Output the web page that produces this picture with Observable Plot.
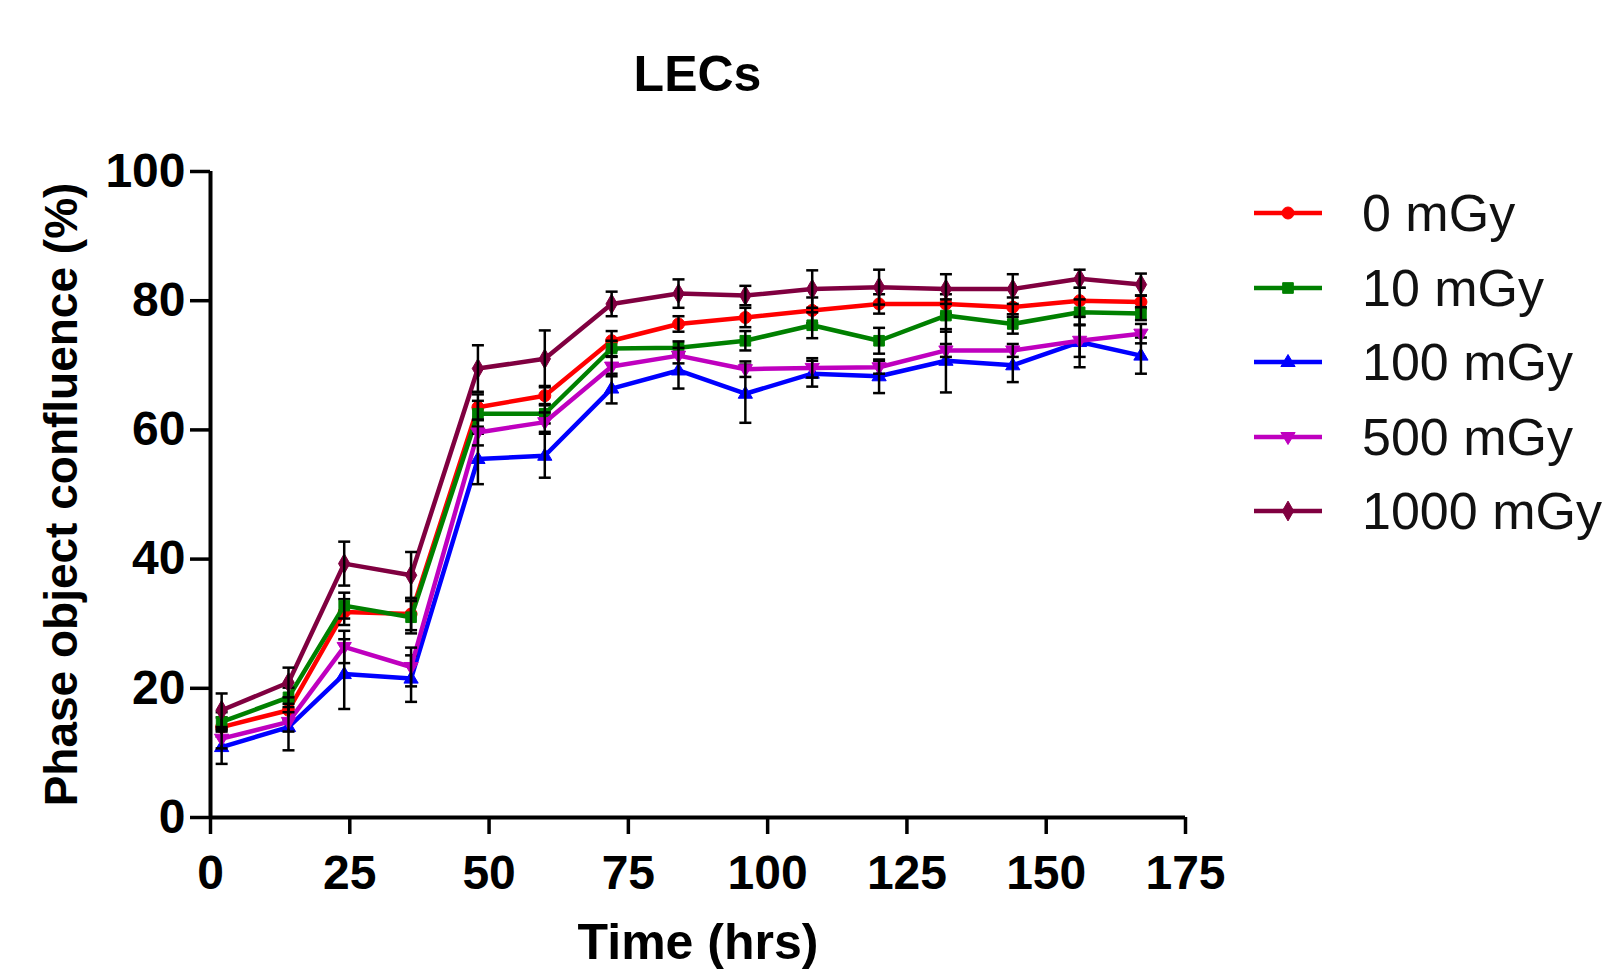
<!DOCTYPE html>
<html>
<head>
<meta charset="utf-8">
<script src="https://cdn.jsdelivr.net/npm/d3@7"></script>
<script src="https://cdn.jsdelivr.net/npm/@observablehq/plot@0.6"></script>
<style>
  body { margin: 0; background: #fff; font-family: "Liberation Sans", Arial, sans-serif; }
  #wrap { position: relative; width: 1609px; height: 969px; overflow: hidden; background: #fff; }
  #title { height: 120px; box-sizing: border-box; padding-top: 49px; width: 1395px; text-align: center;
           font-weight: bold; font-size: 50px; line-height: 50px; color: #000; }
  #legend { position: absolute; left: 1254px; top: 176px; }
  .row { display: flex; align-items: center; height: 74.5px; }
  .row span { margin-left: 40px; font-size: 52px; color: #111; white-space: nowrap; }
</style>
</head>
<body>
<div id="wrap">
  <div id="title">LECs</div>
  <div id="chart"></div>
  <div id="legend"></div>
</div>
<script>
// ---- data ----
const times = [2, 14, 24, 36, 48, 60, 72, 84, 96, 108, 120, 132, 144, 156, 167];
const doseLabels = ["0 mGy", "10 mGy", "100 mGy", "500 mGy", "1000 mGy"];

const mean0    = [14.0, 16.6, 31.8, 31.5, 63.5, 65.3, 73.8, 76.4, 77.4, 78.5, 79.5, 79.5, 79.0, 80.0, 79.8];
const mean10   = [14.8, 18.6, 32.8, 31.0, 62.5, 62.5, 72.6, 72.7, 73.8, 76.2, 73.8, 77.7, 76.4, 78.2, 78.0];
const mean100  = [10.9, 14.0, 22.2, 21.5, 55.5, 56.0, 66.4, 69.2, 65.6, 68.7, 68.3, 70.7, 70.0, 73.6, 71.5];
const mean500  = [12.2, 14.8, 26.4, 23.3, 59.6, 61.2, 69.8, 71.5, 69.4, 69.6, 69.7, 72.3, 72.3, 73.8, 74.9];
const mean1000 = [16.6, 20.9, 39.3, 37.5, 69.5, 71.0, 79.5, 81.1, 80.8, 81.8, 82.1, 81.8, 81.8, 83.4, 82.5];

const sem0    = [1.5, 1.5, 2.0, 2.5, 2.0, 1.5, 1.5, 1.2, 1.5, 2.0, 1.5, 1.5, 1.5, 2.0, 1.0];
const sem10   = [1.5, 1.5, 2.0, 2.5, 2.0, 1.5, 1.2, 1.0, 1.5, 2.0, 2.0, 2.5, 1.5, 2.0, 1.0];
const sem100  = [2.6, 3.6, 5.4, 3.6, 3.9, 3.4, 2.3, 2.8, 4.5, 2.0, 2.6, 4.9, 2.6, 3.9, 2.8];
const sem500  = [1.5, 1.5, 2.5, 3.0, 2.0, 1.5, 1.5, 1.2, 1.2, 1.5, 1.0, 1.0, 1.0, 2.5, 1.5];
const sem1000 = [2.6, 2.3, 3.4, 3.6, 3.6, 4.4, 1.9, 2.2, 1.5, 2.9, 2.7, 2.3, 2.3, 1.4, 1.7];

const xTicks = [0, 25, 50, 75, 100, 125, 150, 175];
const yTicks = [0, 20, 40, 60, 80, 100];
const xLabel = "Time (hrs)";
const yLabel = "Phase object confluence (%)";

// ---- styles ----
const colors = ["#ff0000", "#008000", "#0000ff", "#bf00bf", "#800040"];
const downTriangle = {
  draw(ctx, size) {
    const r = Math.sqrt(size / Math.PI) * 1.25;
    ctx.moveTo(0, r);
    ctx.lineTo(-r * 0.95, -r * 0.6);
    ctx.lineTo(r * 0.95, -r * 0.6);
    ctx.closePath();
  }
};
const upTriangle = {
  draw(ctx, size) {
    const r = Math.sqrt(size / Math.PI) * 1.25;
    ctx.moveTo(0, -r);
    ctx.lineTo(-r * 0.95, r * 0.6);
    ctx.lineTo(r * 0.95, r * 0.6);
    ctx.closePath();
  }
};
const capSymbol = {
  draw(ctx, size) {
    const r = Math.sqrt(size / Math.PI);
    ctx.moveTo(-r, 0);
    ctx.lineTo(r, 0);
  }
};
const symbols = ["circle", "square", upTriangle, downTriangle, "diamond"];

const means = [mean0, mean10, mean100, mean500, mean1000];
const sems = [sem0, sem10, sem100, sem500, sem1000];

const marks = [];
means.forEach((m, i) => {
  const rows = times.map((t, j) => ({t, v: m[j], e: sems[i][j]}));
  marks.push(
    Plot.line(rows, {x: "t", y: "v", stroke: colors[i], strokeWidth: 4.5}),
    Plot.dot(rows, {x: "t", y: "v", symbol: symbols[i], r: 6, fill: colors[i], stroke: colors[i], strokeWidth: 1}),
    Plot.ruleX(rows, {x: "t", y1: d => d.v - d.e, y2: d => d.v + d.e, stroke: "#000", strokeWidth: 2.5}),
    Plot.dot(rows, {x: "t", y: d => d.v + d.e, symbol: capSymbol, r: 6, fill: "none", stroke: "#000", strokeWidth: 2.5}),
    Plot.dot(rows, {x: "t", y: d => d.v - d.e, symbol: capSymbol, r: 6, fill: "none", stroke: "#000", strokeWidth: 2.5})
  );
});

const chart = Plot.plot({
  width: 1609,
  height: 849,
  marginTop: 51,
  marginBottom: 152,
  marginLeft: 210,
  marginRight: 424,
  style: {fontFamily: "'Liberation Sans', Arial, sans-serif", fontWeight: "bold", color: "#000", background: "#fff"},
  x: {domain: [0, 175]},
  y: {domain: [0, 100]},
  marks: [
    Plot.axisX({ticks: xTicks, tickFormat: d => String(d), tickSize: 17, tickPadding: 20, fontSize: 48, strokeWidth: 3.5, label: null}),
    Plot.axisY({ticks: yTicks, tickFormat: d => String(d), tickSize: 20, tickPadding: 5, fontSize: 48, strokeWidth: 3.5, label: null}),
    Plot.ruleX([0], {stroke: "#000", strokeWidth: 4}),
    Plot.ruleY([0], {stroke: "#000", strokeWidth: 4}),
    Plot.text([xLabel], {text: d => d, frameAnchor: "bottom", dy: 125, fontSize: 50, fontWeight: "bold", lineAnchor: "middle"}),
    Plot.text([yLabel], {text: d => d, frameAnchor: "left", textAnchor: "middle", dx: -148, rotate: -90, fontSize: 46, fontWeight: "bold", lineAnchor: "middle"}),
    ...marks
  ]
});
document.getElementById("chart").appendChild(chart);

// ---- legend ----
const legend = d3.select("#legend");
doseLabels.forEach((name, i) => {
  const row = legend.append("div").attr("class", "row");
  const svg = row.append("svg").attr("width", 68).attr("height", 24);
  svg.append("line").attr("x1", 0).attr("x2", 68).attr("y1", 12).attr("y2", 12)
    .attr("stroke", colors[i]).attr("stroke-width", 4.5);
  const sym = typeof symbols[i] === "string"
    ? {circle: d3.symbolCircle, square: d3.symbolSquare, diamond: d3.symbolDiamond}[symbols[i]]
    : symbols[i];
  svg.append("path").attr("transform", "translate(34,12)")
    .attr("d", d3.symbol(sym, Math.PI * 36)())
    .attr("fill", colors[i]).attr("stroke", colors[i]);
  row.append("span").text(name);
});
</script>
</body>
</html>
